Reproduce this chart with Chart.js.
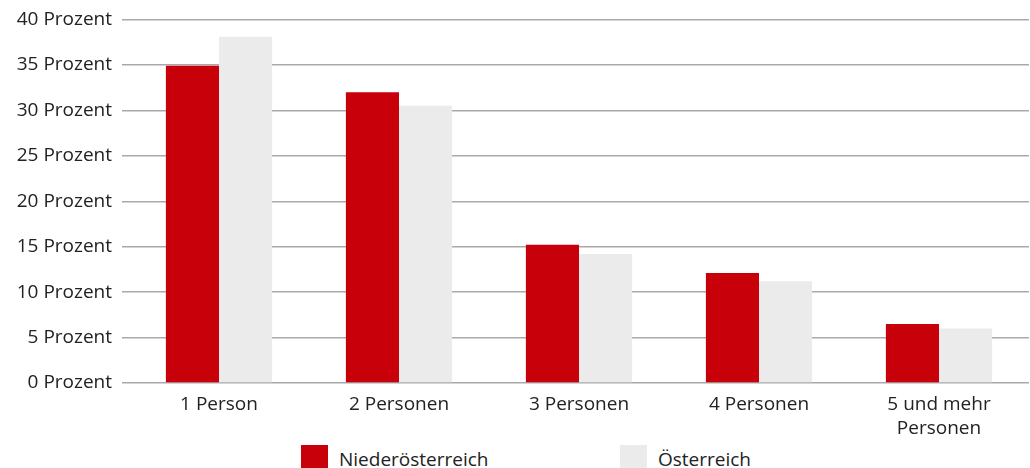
<!DOCTYPE html>
<html>
<head>
<meta charset="utf-8">
<script src="https://cdn.jsdelivr.net/npm/chart.js@4/dist/chart.umd.min.js"></script>
<style>
   html, body { margin: 0; padding: 0; background: #fff; overflow: hidden; }
   #wrap { position: relative; width: 1030px; height: 468px; }
   #haushalteChart { position: absolute; left: 0; top: 0; }
   #legend { position: absolute; top: 444px; left: 0; width: 1030px; height: 40px;
      font-family: "Open Sans", sans-serif; font-size: 19px; color: #222; }
   .item { position: absolute; top: 0; }
   .box { position: absolute; top: 1px; width: 27px; height: 24px; }
   .txt { position: absolute; top: 0; white-space: nowrap; line-height: 30px; }
</style>
</head>
<body>
<div id="wrap">
   <canvas id="haushalteChart" width="1030" height="440"></canvas>
   <div id="legend"></div>
</div>
<script>
const HAUSHALT_LABELS = ['1 Person', '2 Personen', '3 Personen', '4 Personen', ['5 und mehr', 'Personen']];
const NIEDEROESTERREICH = [34.9, 32.0, 15.2, 12.1, 6.5];
const OESTERREICH = [38.1, 30.5, 14.2, 11.2, 6.0];
const SERIES_NAMES = ['Niederösterreich', 'Österreich'];
const Y_TICKS = [0, 5, 10, 15, 20, 25, 30, 35, 40];

const RED = '#c8000a';
const LIGHT = '#ebebeb';
const GRID = '#a9a9a9';
const FONT = { family: '"Open Sans", sans-serif', size: 19, lineHeight: 1.26 };
const Y_FONT = { family: '"Open Sans", sans-serif', size: 19, lineHeight: 1.0 };

const chart = new Chart(document.getElementById('haushalteChart'), {
   type: 'bar',
   data: {
      labels: HAUSHALT_LABELS,
      datasets: [
         { label: SERIES_NAMES[0], data: NIEDEROESTERREICH, backgroundColor: RED },
         { label: SERIES_NAMES[1], data: OESTERREICH, backgroundColor: LIGHT }
      ]
   },
   options: {
      responsive: false,
      maintainAspectRatio: false,
      animation: false,
      layout: { padding: { top: 19, right: 1, left: 0, bottom: 0 } },
      datasets: { bar: { categoryPercentage: 0.59, barPercentage: 1.0 } },
      plugins: { legend: { display: false }, tooltip: { enabled: false } },
      scales: {
         x: {
            grid: { display: false },
            border: { display: false },
            ticks: { color: '#222', font: FONT, padding: 2, maxRotation: 0 },
            afterFit: (scale) => { scale.height = 440 - 383; }
         },
         y: {
            min: 0,
            max: 40,
            afterBuildTicks: (scale) => { scale.ticks = Y_TICKS.map(v => ({ value: v })); },
            grid: { color: GRID, lineWidth: 1.5, tickLength: 7, drawTicks: true },
            border: { display: false },
            ticks: {
               color: '#222', font: Y_FONT, padding: 10,
               callback: (v) => v + ' Prozent'
            },
            afterFit: (scale) => { scale.width = 129; }
         }
      }
   }
});

// legend below the canvas, built from the datasets
const LEGEND_POS = [301, 620];
const legend = document.getElementById('legend');
chart.data.datasets.forEach((ds, i) => {
   const item = document.createElement('div');
   item.className = 'item';
   item.style.left = LEGEND_POS[i] + 'px';
   item.innerHTML = '<div class="box" style="background:' + ds.backgroundColor + '"></div>' +
      '<div class="txt" style="left:38px">' + ds.label + '</div>';
   legend.appendChild(item);
});
</script>
</body>
</html>
